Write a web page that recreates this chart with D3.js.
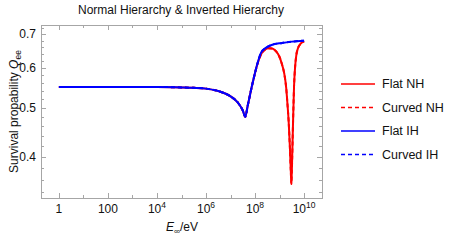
<!DOCTYPE html>
<html>
<head>
<meta charset="utf-8">
<script src="https://cdn.jsdelivr.net/npm/d3@7"></script>
<style>
  body { margin: 0; background: #fff; }
  svg { display: block; font-family: "Liberation Sans", Arial, sans-serif; }
</style>
</head>
<body>
<svg id="chart" width="452" height="240"></svg>
<script>
// log10 of the energy for each sample
const logEnergyIH = [0, 1, 2, 3, 4, 5, 5.5, 6, 6.5, 7, 7.3, 7.5, 7.6, 7.7, 7.9, 8.1, 8.24, 8.44, 8.65, 9.1, 9.5, 10];
const flatIH =      [0.55, 0.55, 0.55, 0.55, 0.55, 0.549, 0.548, 0.546, 0.54, 0.527, 0.512, 0.494, 0.48, 0.505, 0.56, 0.613, 0.643, 0.658, 0.666, 0.673, 0.677, 0.68];
const curvedIH = flatIH.slice();

const logEnergyNH = [0, 1, 2, 3, 4, 5, 5.5, 6, 6.5, 7, 7.3, 7.5, 7.6, 7.7, 7.9, 8.1, 8.24, 8.4, 8.55, 8.7, 8.85, 8.98, 9.1, 9.19, 9.27, 9.32, 9.37, 9.42, 9.46, 9.48, 9.5, 9.55, 9.59, 9.63, 9.68, 9.75, 9.85, 10];
const flatNH =      [0.55, 0.55, 0.55, 0.55, 0.55, 0.549, 0.548, 0.546, 0.54, 0.527, 0.512, 0.494, 0.48, 0.505, 0.56, 0.612, 0.638, 0.652, 0.657, 0.656, 0.648, 0.634, 0.61, 0.585, 0.548, 0.51, 0.47, 0.418, 0.372, 0.353, 0.375, 0.47, 0.552, 0.6, 0.635, 0.657, 0.67, 0.678];
const curvedNH = flatNH.slice();

const xTickLabels = ["1", "100", "10^4", "10^6", "10^8", "10^10"];
const yTicks = [0.4, 0.5, 0.6, 0.7];
const legendLabels = ["Flat NH", "Curved NH", "Flat IH", "Curved IH"];

const series = [
  { name: legendLabels[0], xs: logEnergyNH, ys: flatNH, color: "#ff0000", dash: null },
  { name: legendLabels[1], xs: logEnergyNH, ys: curvedNH, color: "#ff0000", dash: "4,3" },
  { name: legendLabels[2], xs: logEnergyIH, ys: flatIH, color: "#0000ff", dash: null },
  { name: legendLabels[3], xs: logEnergyIH, ys: curvedIH, color: "#0000ff", dash: "4,3" }
];

const svg = d3.select("#chart");
const plotLeft = 41, plotRight = 322, plotTop = 25, plotBottom = 198;

const x = d3.scaleLog().domain([Math.pow(10, -0.73), Math.pow(10, 10.73)]).range([plotLeft, plotRight]);
const y = d3.scaleLog().domain([0.331, 0.7305]).range([plotBottom, plotTop]);

const frameColor = "#a6a6a6";
const textColor = "#111";

// frame
svg.append("rect")
  .attr("x", plotLeft + 0.5).attr("y", plotTop + 0.5)
  .attr("width", plotRight - plotLeft).attr("height", plotBottom - plotTop)
  .attr("fill", "none").attr("stroke", frameColor).attr("stroke-width", 1);

// x ticks (every decade, labelled on even ones)
const decades = d3.range(0, 11);
const xt = svg.append("g").attr("stroke", frameColor).attr("stroke-width", 1);
decades.forEach((d) => {
  const px = Math.round(x(Math.pow(10, d))) + 0.5;
  const len = d % 2 === 0 ? 5 : 3;
  xt.append("line").attr("x1", px).attr("x2", px).attr("y1", plotBottom).attr("y2", plotBottom - len);
  xt.append("line").attr("x1", px).attr("x2", px).attr("y1", plotTop).attr("y2", plotTop + len);
});

decades.filter((d) => d % 2 === 0).forEach((d, i) => {
  const label = xTickLabels[i];
  const t = svg.append("text")
    .attr("x", x(Math.pow(10, d)))
    .attr("y", 213)
    .attr("text-anchor", "middle")
    .attr("font-size", 12)
    .attr("fill", textColor);
  if (label.includes("^")) {
    const [base, exp] = label.split("^");
    t.append("tspan").text(base);
    t.append("tspan").attr("dy", -5).attr("font-size", 8.5).text(exp);
  } else {
    t.text(label);
  }
});

// y ticks: minor every 0.02, major every 0.1
const yt = svg.append("g").attr("stroke", frameColor).attr("stroke-width", 1);
d3.range(34, 74, 2).map((v) => v / 100).forEach((v) => {
  const py = Math.round(y(v)) + 0.5;
  const major = Math.abs(v * 10 - Math.round(v * 10)) < 1e-6;
  const len = major ? 5 : 3;
  yt.append("line").attr("x1", plotLeft).attr("x2", plotLeft + len).attr("y1", py).attr("y2", py);
  yt.append("line").attr("x1", plotRight).attr("x2", plotRight - len).attr("y1", py).attr("y2", py);
});

yTicks.forEach((v) => {
  svg.append("text")
    .attr("x", 36)
    .attr("y", y(v) + 4)
    .attr("text-anchor", "end")
    .attr("font-size", 12)
    .attr("fill", textColor)
    .text(d3.format(".1f")(v));
});

// curves
const line = d3.line()
  .x((d) => x(Math.pow(10, d[0])))
  .y((d) => y(d[1]))
  .curve(d3.curveMonotoneX);

series.forEach((s) => {
  const pts = s.xs.map((e, i) => [e, s.ys[i]]);
  svg.append("path")
    .datum(pts)
    .attr("d", line)
    .attr("fill", "none")
    .attr("stroke", s.color)
    .attr("stroke-width", 2)
    .attr("stroke-dasharray", s.dash);
});

// title
svg.append("text")
  .attr("x", 181).attr("y", 14)
  .attr("text-anchor", "middle")
  .attr("font-size", 12)
  .attr("fill", textColor)
  .text("Normal Hierarchy & Inverted Hierarchy");

// x label
const xl = svg.append("text")
  .attr("x", 182).attr("y", 231)
  .attr("text-anchor", "middle")
  .attr("font-size", 12)
  .attr("fill", textColor);
xl.append("tspan").attr("font-style", "italic").text("E");
xl.append("tspan").attr("dy", 3).attr("font-size", 8.5).text("∞");
xl.append("tspan").attr("dy", -3).text("/eV");

// y label
const yl = svg.append("text")
  .attr("transform", `translate(18,${(plotTop + plotBottom) / 2}) rotate(-90)`)
  .attr("text-anchor", "middle")
  .attr("font-size", 12)
  .attr("fill", textColor);
yl.append("tspan").text("Survival propability ");
yl.append("tspan").attr("font-style", "italic").text("Q");
yl.append("tspan").attr("dy", 3).attr("font-size", 8.5).text("ee");

// legend
const legend = svg.append("g");
series.forEach((s, i) => {
  const ly = 84 + i * 23.5;
  legend.append("line")
    .attr("x1", 341).attr("x2", 375)
    .attr("y1", ly).attr("y2", ly)
    .attr("stroke", s.color)
    .attr("stroke-width", 1.6)
    .attr("stroke-dasharray", s.dash);
  legend.append("text")
    .attr("x", 382).attr("y", ly + 4)
    .attr("font-size", 12.5)
    .attr("fill", textColor)
    .text(s.name);
});
</script>
</body>
</html>
